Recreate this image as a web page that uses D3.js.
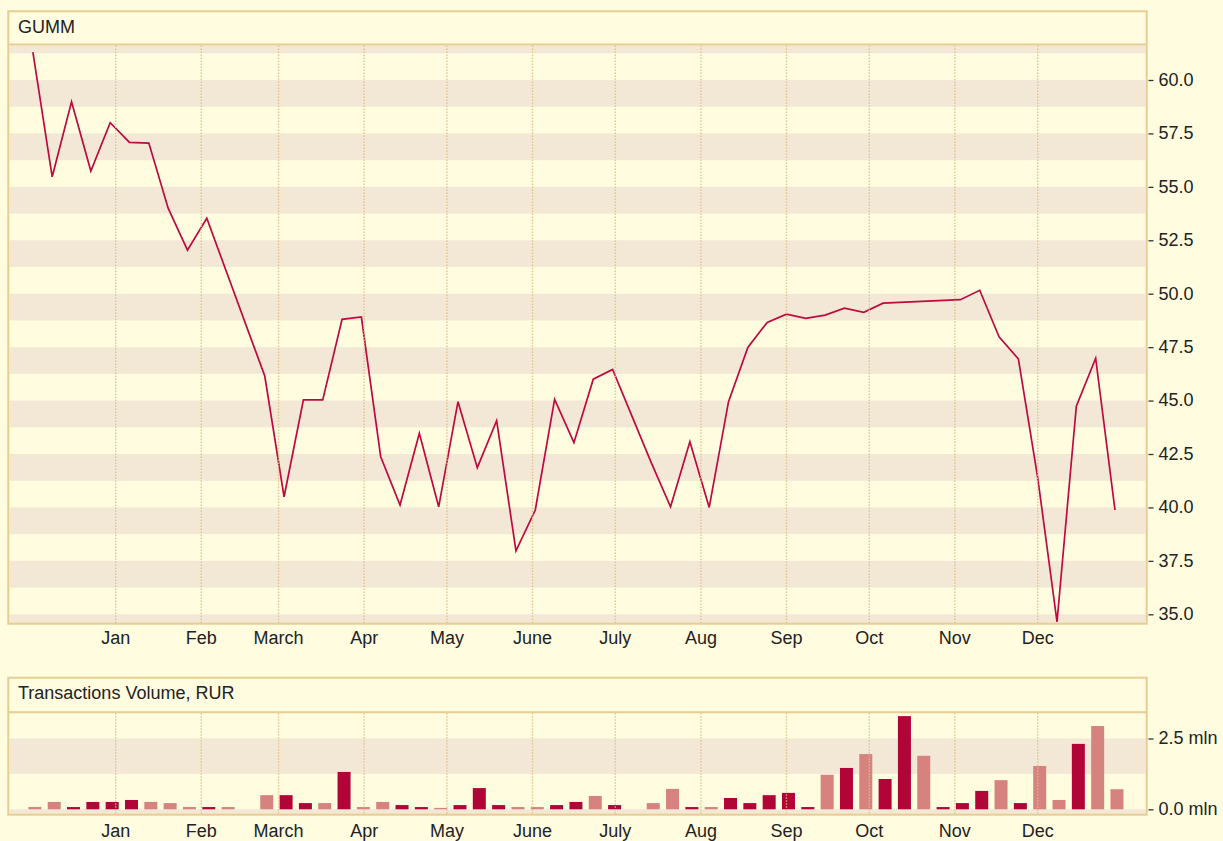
<!DOCTYPE html>
<html>
<head>
<meta charset="utf-8">
<script src="https://cdn.jsdelivr.net/npm/d3@7"></script>
<style>
    body { margin: 0; background: #fffce0; }
    svg { display: block; }
    text { font-family: "Liberation Sans", Arial, Helvetica, sans-serif; fill: #222; }
</style>
</head>
<body>
<svg id="chart" width="1223" height="841"></svg>
<script>
// weekly quotes, the first week starts on 2 Dec 2012; null = no trade that week
const firstWeek = new Date(2012, 11, 2);

const priceValues = [61.3, 55.47, 58.98, 55.74, 58.0, 57.08, 57.05, 54.0, 52.04, 53.53,
    null, null, 46.15, 40.5, 45.03, 45.03, 48.8, 48.91, 42.37, 40.11,
    43.47, 40.03, 44.95, 41.86, 44.06, 37.97, 39.88, 45.06, 43.03, 46.0,
    46.46, null, 42.1, 40.03, 43.07, 40.0, 44.95, 47.49, 48.66, 49.04,
    48.85, 49.0, 49.32, 49.13, 49.56, null, null, null, 49.72, 50.16,
    47.98, 46.95, 41.4, 34.65, 44.74, 46.98, 39.88];

// transactions volume, mln RUR
const volumeValues = [0.08, 0.26, 0.08, 0.26, 0.26, 0.33, 0.26, 0.22, 0.08, 0.08,
    0.08, null, 0.5, 0.5, 0.22, 0.22, 1.32, 0.08, 0.26, 0.15,
    0.08, 0.05, 0.15, 0.75, 0.15, 0.08, 0.08, 0.15, 0.26, 0.47,
    0.15, null, 0.22, 0.72, 0.08, 0.08, 0.4, 0.22, 0.5, 0.58,
    0.08, 1.22, 1.46, 1.95, 1.07, 3.29, 1.89, 0.08, 0.22, 0.65,
    1.03, 0.22, 1.53, 0.33, 2.31, 2.94, 0.71];

// 1 = up week (dark bar), 0 = down week (light bar)
const volumeUp = [0, 0, 1, 1, 1, 1, 0, 0, 0, 1, 0, null, 0, 1, 1, 0, 1, 0, 0, 1,
    1, 0, 1, 1, 1, 0, 0, 1, 1, 0, 1, null, 0, 0, 1, 0, 1, 1, 1, 1,
    1, 0, 1, 0, 1, 1, 0, 1, 1, 1, 0, 1, 0, 0, 1, 0, 0];

const monthLabels = ["Jan", "Feb", "March", "Apr", "May", "June", "July", "Aug", "Sep", "Oct", "Nov", "Dec"];
const priceTicks = [35, 37.5, 40, 42.5, 45, 47.5, 50, 52.5, 55, 57.5, 60];
const volumeTicks = [0, 2.5];

const colors = {
    bg: "#fffce0",
    band: "#f3e8d6",
    border: "#e6cd93",
    grid: "#e0be80",
    line: "#bf0a3e",
    up: "#b10538",
    down: "#d6837f"
};

let svg = d3.select("#chart");
let weeks = priceValues.map(function (v, i) {
    return d3.timeDay.offset(firstWeek, 7 * i);
});
let months = d3.timeMonth.range(new Date(2013, 0, 1), new Date(2013, 11, 2));

let left = 9.3, right = 1145.7;
let x = d3.scaleTime()
    .domain([new Date(2012, 10, 23, 11), new Date(2014, 0, 9, 3)])
    .range([left, right]);

function drawPanel(p) {
    let g = svg.append("g");
    let clipId = "clip-" + p.name;
    g.append("clipPath").attr("id", clipId)
        .append("rect")
        .attr("x", left).attr("y", p.plotTop)
        .attr("width", right - left).attr("height", p.plotBottom - p.plotTop);

    // horizontal stripes: a darker band below each tick
    g.append("g").attr("clip-path", "url(#" + clipId + ")")
        .selectAll("rect")
        .data(p.bands)
        .enter()
        .append("rect")
        .attr("x", left)
        .attr("width", right - left)
        .attr("y", function (d) { return p.y(d); })
        .attr("height", function (d) { return p.y(d - p.step / 2) - p.y(d); })
        .attr("fill", colors.band);

    let marks = g.append("g").attr("clip-path", "url(#" + clipId + ")");
    p.draw(marks);

    // dotted month grid on top of the marks
    g.append("g").selectAll("line")
        .data(months)
        .enter()
        .append("line")
        .attr("x1", function (d) { return x(d); })
        .attr("x2", function (d) { return x(d); })
        .attr("y1", p.plotTop)
        .attr("y2", p.plotBottom)
        .attr("stroke", colors.grid)
        .attr("stroke-width", 1.4)
        .attr("stroke-dasharray", "1.5,1.5")
        .attr("opacity", 0.85);

    // frame and title bar
    g.append("rect")
        .attr("x", 8.3).attr("y", p.top)
        .attr("width", 1146.7 - 8.3).attr("height", p.bottom - p.top)
        .attr("fill", "none")
        .attr("stroke", colors.border)
        .attr("stroke-width", 2);
    g.append("line")
        .attr("x1", 8.3).attr("x2", 1146.7)
        .attr("y1", p.plotTop - 1).attr("y2", p.plotTop - 1)
        .attr("stroke", colors.border)
        .attr("stroke-width", 2);
    g.append("text")
        .attr("x", 18)
        .attr("y", p.top + 21.3)
        .attr("font-size", 18)
        .text(p.title);

    // right axis
    let axis = g.append("g")
        .attr("transform", "translate(" + 1147.5 + ",0)")
        .call(d3.axisRight(p.y).tickValues(p.ticks).tickSize(6).tickPadding(5).tickFormat(p.format));
    axis.select(".domain").remove();
    axis.selectAll(".tick line").attr("stroke", "#333").attr("stroke-width", 1.3)
        .attr("x1", 1);
    axis.selectAll(".tick text")
        .attr("font-size", 18)
        .attr("font-family", null)
        .attr("fill", "#222")
        .attr("dy", "0.3em");

    // month labels under the panel
    g.append("g").selectAll("text")
        .data(months)
        .enter()
        .append("text")
        .attr("x", function (d) { return x(d); })
        .attr("y", p.labelY)
        .attr("text-anchor", "middle")
        .attr("font-size", 18)
        .text(function (d, i) { return monthLabels[i]; });
}

// price panel
let yPrice = d3.scaleLinear().domain([34.593, 61.614]).range([623, 45.5]);
drawPanel({
    name: "price",
    title: "GUMM",
    top: 11.3, bottom: 623.7, plotTop: 45.5, plotBottom: 623,
    labelY: 643.5,
    y: yPrice,
    ticks: priceTicks,
    bands: d3.range(35, 63, 2.5),
    step: 2.5,
    format: d3.format(".1f"),
    draw: function (g) {
        let points = priceValues
            .map(function (v, i) { return {date: weeks[i], value: v}; })
            .filter(function (d) { return d.value !== null; });
        let line = d3.line()
            .x(function (d) { return x(d.date); })
            .y(function (d) { return yPrice(d.value); });
        g.append("path")
            .datum(points)
            .attr("d", line)
            .attr("fill", "none")
            .attr("stroke", colors.line)
            .attr("stroke-width", 1.7)
            .attr("stroke-linejoin", "miter");
    }
});

// volume panel
let yVolume = d3.scaleLinear().domain([-0.19, 3.425]).range([814.7, 712.3]);
let barWidth = 13, barShift = 2;
drawPanel({
    name: "volume",
    title: "Transactions Volume, RUR",
    top: 677.7, bottom: 814.7, plotTop: 713.3, plotBottom: 814,
    labelY: 837,
    y: yVolume,
    ticks: volumeTicks,
    bands: d3.range(0, 3.8, 2.5),
    step: 2.5,
    format: function (d) { return d3.format(".1f")(d) + " mln"; },
    draw: function (g) {
        let bars = volumeValues
            .map(function (v, i) { return {date: weeks[i], value: v, up: volumeUp[i]}; })
            .filter(function (d) { return d.value !== null; });
        g.selectAll(".bar")
            .data(bars)
            .enter()
            .append("rect")
            .attr("class", "bar")
            .attr("x", function (d) { return x(d.date) + barShift - barWidth / 2; })
            .attr("width", barWidth)
            .attr("y", function (d) { return yVolume(d.value); })
            .attr("height", function (d) { return yVolume(0) - yVolume(d.value); })
            .attr("fill", function (d) { return d.up ? colors.up : colors.down; });
    }
});
</script>
</body>
</html>
